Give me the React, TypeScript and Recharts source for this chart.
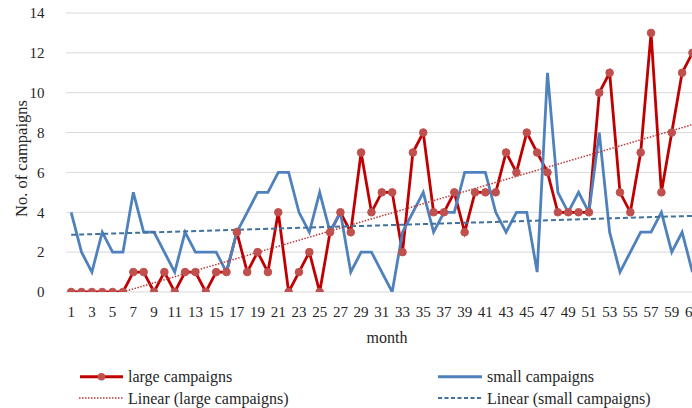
import React from 'react';
import { LineChart, Line, XAxis, YAxis, CartesianGrid } from 'recharts';

// Monthly counts of campaigns
const months = [
  1, 2, 3, 4, 5, 6, 7, 8, 9, 10, 11, 12, 13, 14, 15, 16, 17, 18, 19, 20,
  21, 22, 23, 24, 25, 26, 27, 28, 29, 30, 31, 32, 33, 34, 35, 36, 37, 38, 39, 40,
  41, 42, 43, 44, 45, 46, 47, 48, 49, 50, 51, 52, 53, 54, 55, 56, 57, 58, 59, 60, 61,
];

const largeCampaigns = [
  0, 0, 0, 0, 0, 0, 1, 1, 0, 1, 0, 1, 1, 0, 1, 1, 3, 1, 2, 1,
  4, 0, 1, 2, 0, 3, 4, 3, 7, 4, 5, 5, 2, 7, 8, 4, 4, 5, 3, 5,
  5, 5, 7, 6, 8, 7, 6, 4, 4, 4, 4, 10, 11, 5, 4, 7, 13, 5, 8, 11, 12,
];

const smallCampaigns = [
  4, 2, 1, 3, 2, 2, 5, 3, 3, 2, 1, 3, 2, 2, 2, 1, 3, 4, 5, 5,
  6, 6, 4, 3, 5, 3, 4, 1, 2, 2, 1, 0, 3, 4, 5, 3, 4, 4, 6, 6,
  6, 4, 3, 4, 4, 1, 11, 5, 4, 5, 4, 8, 3, 1, 2, 3, 3, 4, 2, 3, 1,
];

// Linear trend values at the first and last month
const trendMonths = [1, 61];
const largeTrend = [-0.76, 8.4];
const smallTrend = [2.87, 3.82];

const monthTicks = [
  1, 3, 5, 7, 9, 11, 13, 15, 17, 19, 21, 23, 25, 27, 29, 31, 33, 35, 37, 39,
  41, 43, 45, 47, 49, 51, 53, 55, 57, 59, 61,
];
const countTicks = [0, 2, 4, 6, 8, 10, 12, 14];

const data = months.map((m, i) => ({ month: m, large: largeCampaigns[i], small: smallCampaigns[i] }));
const largeTrendData = trendMonths.map((m, i) => ({ month: m, trend: largeTrend[i] }));
const smallTrendData = trendMonths.map((m, i) => ({ month: m, trend: smallTrend[i] }));

const FONT = '"Liberation Serif", "Times New Roman", serif';
const RED_LINE = '#C00000';
const RED_DOT = '#C0504D';
const BLUE = '#4F81BD';
const BLUE_TREND = '#41719C';
const RED_TREND = '#B83A3A';
const TEXT = '#262626';

const YTitle = (props: any) => {
  const { x, y, height } = props.viewBox;
  const cx = x + 21;
  const cy = y + height / 2 + 6;
  return (
    <text
      x={cx}
      y={cy}
      transform={`rotate(-90 ${cx} ${cy})`}
      textAnchor="middle"
      dominantBaseline="central"
      fontFamily={FONT}
      fontSize={16.5}
      fill={TEXT}
    >
      No. of campaigns
    </text>
  );
};

const XTitle = (props: any) => {
  const { x, y, width } = props.viewBox;
  return (
    <text
      x={x + width / 2}
      y={y + 45}
      textAnchor="middle"
      dominantBaseline="central"
      fontFamily={FONT}
      fontSize={16}
      fill={TEXT}
    >
      month
    </text>
  );
};

const LegendBox = () => (
  <svg
    width={692}
    height={48}
    style={{ position: 'absolute', left: 0, top: 360 }}
    fontFamily={FONT}
    fontSize={16}
  >
    <line x1={80} x2={123} y1={16.7} y2={16.7} stroke={RED_LINE} strokeWidth={3} />
    <circle cx={101.5} cy={16.7} r={3.8} fill={RED_DOT} />
    <text x={128} y={16.7} dominantBaseline="central" fill={TEXT}>large campaigns</text>

    <line x1={79} x2={123} y1={38} y2={38} stroke={RED_TREND} strokeWidth={1.5} strokeDasharray="1.5 1.5" />
    <text x={128} y={38} dominantBaseline="central" fill={TEXT}>Linear (large campaigns)</text>

    <line x1={438} x2={482} y1={16.7} y2={16.7} stroke={BLUE} strokeWidth={3} />
    <text x={487} y={16.7} dominantBaseline="central" fill={TEXT}>small campaigns</text>

    <line x1={438} x2={482} y1={38} y2={38} stroke={BLUE_TREND} strokeWidth={2} strokeDasharray="4 2.5" />
    <text x={487} y={38} dominantBaseline="central" fill={TEXT}>Linear (small campaigns)</text>
  </svg>
);

export default function App() {
  return (
    <div
      style={{
        position: 'fixed',
        left: 0,
        top: 0,
        width: 692,
        height: 408,
        overflow: 'hidden',
        background: '#fff',
      }}
    >
      <LineChart
        width={720}
        height={408}
        margin={{ top: 13, right: 12, bottom: 86, left: 0 }}
      >
        <CartesianGrid horizontal vertical={false} stroke="#D9D9D9" strokeWidth={1} />
        <XAxis
          type="number"
          dataKey="month"
          domain={[0.5, 62.5]}
          ticks={monthTicks}
          interval={0}
          allowDataOverflow
          axisLine={false}
          tickLine={false}
          tickSize={0}
          tickMargin={14}
          height={30}
          tick={{ fontFamily: FONT, fontSize: 15, fill: TEXT }}
          label={<XTitle />}
        />
        <YAxis
          type="number"
          domain={[0, 14]}
          ticks={countTicks}
          allowDataOverflow
          axisLine={false}
          tickLine={false}
          tickSize={0}
          tickMargin={21.5}
          width={66}
          tick={{ fontFamily: FONT, fontSize: 15, fill: TEXT }}
          label={<YTitle />}
        />
        <Line
          data={data}
          dataKey="large"
          type="linear"
          stroke={RED_LINE}
          strokeWidth={2.8}
          dot={{ r: 3.8, fill: RED_DOT, stroke: RED_DOT, strokeWidth: 1 }}
          activeDot={false}
          isAnimationActive={false}
        />
        <Line
          data={data}
          dataKey="small"
          type="linear"
          stroke={BLUE}
          strokeWidth={2.8}
          dot={false}
          activeDot={false}
          isAnimationActive={false}
        />
        <Line
          data={largeTrendData}
          dataKey="trend"
          type="linear"
          stroke={RED_TREND}
          strokeWidth={1.5}
          strokeDasharray="1.5 1.5"
          dot={false}
          activeDot={false}
          isAnimationActive={false}
        />
        <Line
          data={smallTrendData}
          dataKey="trend"
          type="linear"
          stroke={BLUE_TREND}
          strokeWidth={2}
          strokeDasharray="5 3"
          dot={false}
          activeDot={false}
          isAnimationActive={false}
        />
      </LineChart>
      <LegendBox />
    </div>
  );
}
